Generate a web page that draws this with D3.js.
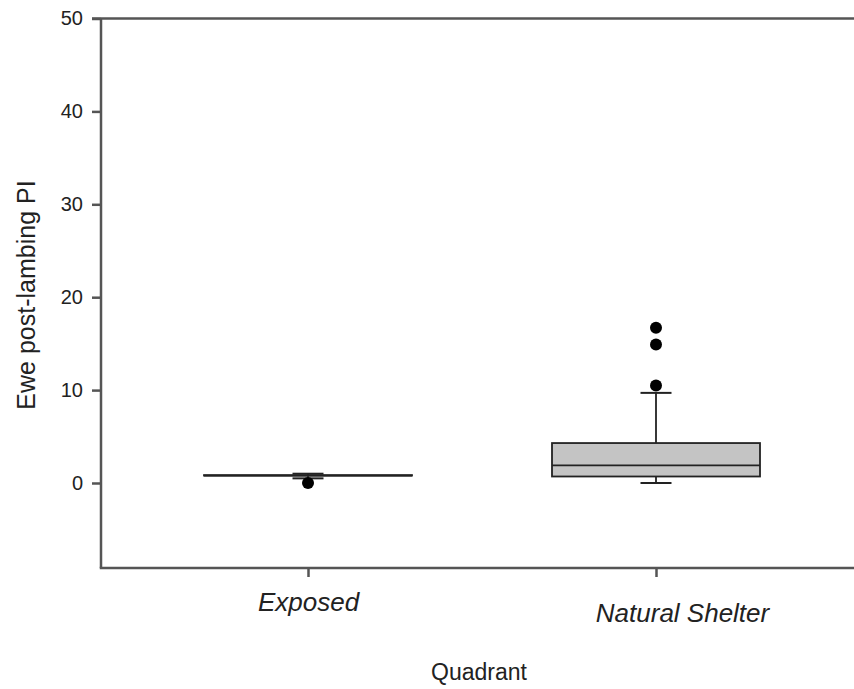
<!DOCTYPE html>
<html>
<head>
<meta charset="utf-8">
<script src="https://cdn.jsdelivr.net/npm/d3@7"></script>
<style>
  html, body { margin: 0; padding: 0; background: #fff; }
  svg { display: block; font-family: Arial, "Liberation Sans", sans-serif; }
</style>
</head>
<body>
<svg id="chart" width="854" height="689"></svg>
<script>
// Box-plot summaries per quadrant
const categories = ["Exposed", "Natural Shelter"];
const whiskerLow  = [0.5, 0.0];
const q1          = [0.8, 0.7];
const median      = [0.8, 1.9];
const q3          = [0.85, 4.3];
const whiskerHigh = [1.0, 9.7];
const outliers    = [[0.0], [10.5, 14.9, 16.7]];
const yTicks = [0, 10, 20, 30, 40, 50];

const svg = d3.select("#chart");
const W = 854;
const plotLeft = 101, plotTop = 18.5, plotBottom = 568, plotRight = 863;

const x = d3.scalePoint().domain(categories).range([308, 656]);
const y = d3.scaleLinear().domain([-9.15, 50]).range([plotBottom, plotTop]);

const boxW = 208, capW = 31;
const axisColor = "#555";

// Y axis
const yAxis = svg.append("g")
  .attr("transform", `translate(${plotLeft},0)`)
  .call(d3.axisLeft(y).tickValues(yTicks).tickSize(9).tickPadding(9).tickSizeOuter(0));
yAxis.select(".domain").remove();
yAxis.selectAll(".tick line").attr("stroke", axisColor).attr("stroke-width", 2.5);
yAxis.selectAll(".tick text").attr("fill", "#222").style("font-size", "20px");
svg.append("line")
  .attr("x1", plotLeft).attr("x2", plotLeft)
  .attr("y1", y(50)).attr("y2", plotBottom)
  .attr("stroke", axisColor).attr("stroke-width", 2.5);

// Top frame line continues the 50 tick
svg.append("line")
  .attr("x1", plotLeft - 9).attr("x2", W + 10)
  .attr("y1", y(50)).attr("y2", y(50))
  .attr("stroke", axisColor).attr("stroke-width", 2.5);

// X axis
const labelShift = [[0, 0], [26, 11]];
const xAxis = svg.append("g")
  .attr("transform", `translate(0,${plotBottom})`)
  .call(d3.axisBottom(x).tickSize(9).tickPadding(0).tickSizeOuter(0));
xAxis.select(".domain").remove();
xAxis.selectAll(".tick line").attr("stroke", axisColor).attr("stroke-width", 2.5);
xAxis.selectAll(".tick text")
  .attr("dy", null)
  .attr("y", (d, i) => 43 + labelShift[i][1])
  .attr("x", (d, i) => labelShift[i][0])
  .attr("fill", "#222").style("font-size", "26px").style("font-style", "italic");
svg.append("line")
  .attr("x1", plotLeft - 1.25).attr("x2", plotRight)
  .attr("y1", plotBottom).attr("y2", plotBottom)
  .attr("stroke", axisColor).attr("stroke-width", 2.5);

// Axis titles
svg.append("text")
  .attr("x", 479).attr("y", 680)
  .attr("text-anchor", "middle")
  .attr("fill", "#222").style("font-size", "23px")
  .text("Quadrant");
svg.append("text")
  .attr("transform", `translate(35,${295}) rotate(-90)`)
  .attr("text-anchor", "middle")
  .attr("fill", "#222").style("font-size", "25px")
  .text("Ewe post-lambing PI");

// Boxes
const data = categories.map((c, i) => ({
  c, lo: whiskerLow[i], q1: q1[i], med: median[i], q3: q3[i], hi: whiskerHigh[i], out: outliers[i]
}));

const stroke = "#222";
const g = svg.append("g");
data.forEach(d => {
  const cx = x(d.c);
  // whiskers
  g.append("line").attr("x1", cx).attr("x2", cx).attr("y1", y(d.q3)).attr("y2", y(d.hi))
    .attr("stroke", stroke).attr("stroke-width", 1.8);
  g.append("line").attr("x1", cx).attr("x2", cx).attr("y1", y(d.q1)).attr("y2", y(d.lo))
    .attr("stroke", stroke).attr("stroke-width", 1.8);
  [d.lo, d.hi].forEach(v => {
    g.append("line").attr("x1", cx - capW / 2).attr("x2", cx + capW / 2)
      .attr("y1", y(v)).attr("y2", y(v))
      .attr("stroke", stroke).attr("stroke-width", 2);
  });
  // box
  g.append("rect")
    .attr("x", cx - boxW / 2).attr("width", boxW)
    .attr("y", y(d.q3)).attr("height", Math.max(0, y(d.q1) - y(d.q3)))
    .attr("fill", "#c4c4c4").attr("stroke", stroke).attr("stroke-width", 1.8);
  g.append("line").attr("x1", cx - boxW / 2).attr("x2", cx + boxW / 2)
    .attr("y1", y(d.med)).attr("y2", y(d.med))
    .attr("stroke", stroke).attr("stroke-width", 1.8);
  // outliers
  d.out.forEach(v => {
    g.append("circle").attr("cx", cx).attr("cy", y(v)).attr("r", 6).attr("fill", "#000");
  });
});
</script>
</body>
</html>
